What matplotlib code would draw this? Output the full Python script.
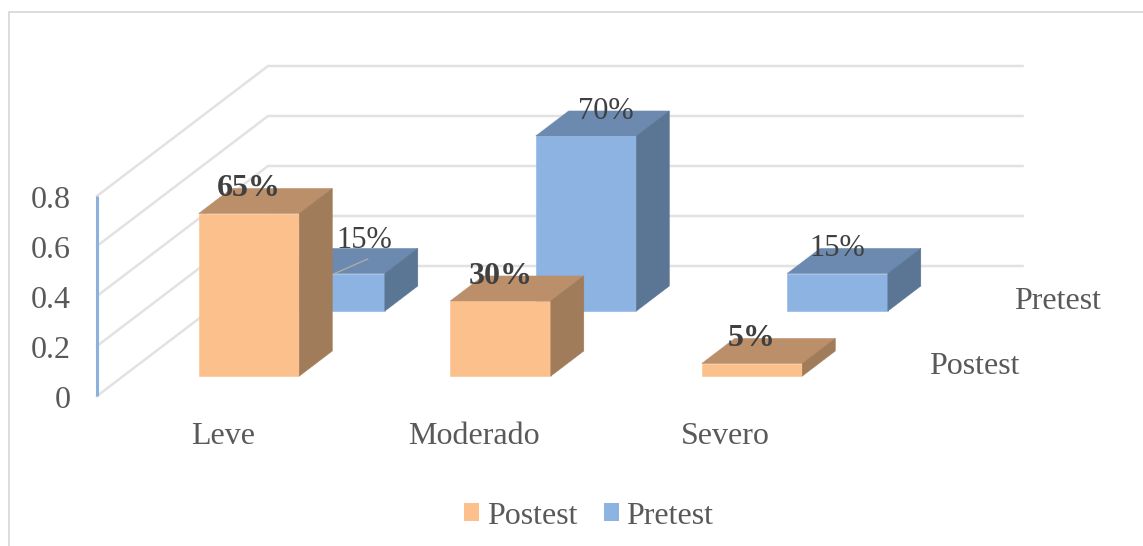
import matplotlib
matplotlib.use("Agg")
import matplotlib.pyplot as plt
from matplotlib.patches import Polygon, Patch

plt.rcParams["font.family"] = ["Liberation Serif", "DejaVu Serif"]

# Data
categories = ["Leve", "Moderado", "Severo"]
series_names = ["Postest", "Pretest"]
postest = [0.65, 0.30, 0.05]
pretest = [0.15, 0.70, 0.15]
postest_labels = ["65%", "30%", "5%"]
pretest_labels = ["15%", "70%", "15%"]
axis_ticks = [0, 0.2, 0.4, 0.6, 0.8]
axis_tick_labels = ["0", "0.2", "0.4", "0.6", "0.8"]

# Oblique projection of the excel style 3D chart
PX_CAT = 251.5  # pixels per category
PX_VAL = 250.0  # pixels per 1.0 of value
SHEAR_X = 0.34  # category units per series of depth
SHEAR_Y = 0.26  # value units per series of depth
BAR_W = 0.40
BAR_D = 0.385

TEXT = "#595959"
LABEL = "#404040"
GRID = "#E2E2E2"
POST_COLORS = ("#FBC08C", "#BC8F6B", "#A07C5B")  # front, top, side
PRE_COLORS = ("#8CB3E2", "#6C8AAF", "#5B7595")


def project(cat, depth, value):
    return cat + depth * SHEAR_X, value + depth * SHEAR_Y


def draw_bar(ax, cat, series, value, colors, z):
    x0 = cat + 0.5 - BAR_W / 2
    x1 = x0 + BAR_W
    d0 = series + 0.5 - BAR_D / 2
    d1 = d0 + BAR_D
    front = [project(x0, d0, 0), project(x1, d0, 0), project(x1, d0, value), project(x0, d0, value)]
    top = [project(x0, d0, value), project(x1, d0, value), project(x1, d1, value), project(x0, d1, value)]
    side = [project(x1, d0, 0), project(x1, d1, 0), project(x1, d1, value), project(x1, d0, value)]
    for pts, col in zip((front, top, side), colors):
        ax.add_patch(Polygon(pts, closed=True, facecolor=col, edgecolor=col, linewidth=0.4, zorder=z))


fig = plt.figure(figsize=(11.43, 5.46), dpi=100)
ax = fig.add_axes([0, 0, 1, 1])
ax.set_xlim(-97 / PX_CAT, (1143 - 97) / PX_CAT)
ax.set_ylim(-150 / PX_VAL, 396 / PX_VAL)
ax.axis("off")

# Chart border, only top and left are inside the crop
border_x = -88 / PX_CAT
border_y = 384 / PX_VAL
ax.plot([border_x, border_x, 1046 / PX_CAT], [-150 / PX_VAL, border_y, border_y], color="#D9D9D9", lw=1.3, zorder=1)

# Walls
for tick in axis_ticks:
    xs, ys = zip(project(0, 0, tick), project(0, 2, tick), project(3, 2, tick))
    ax.plot(xs, ys, color=GRID, lw=1.8, solid_joinstyle="miter", zorder=1)
ax.plot([0, 0], [0, axis_ticks[-1]], color="#8DB0DC", lw=2.2, solid_capstyle="butt", zorder=2)

for tick, lab in zip(axis_ticks, axis_tick_labels):
    ax.annotate(lab, (0, tick), xytext=(-19, -3), textcoords="offset points", ha="right", va="center",
                fontsize=23, color=TEXT)

for i, name in enumerate(categories):
    ax.annotate(name, (i + 0.5, 0), xytext=(0, -29), textcoords="offset points", ha="center", va="center",
                fontsize=23, color=TEXT)

for s, name in enumerate(series_names):
    ax.annotate(name, project(3, s + 0.5, 0), xytext=(25, -2.5), textcoords="offset points", ha="left",
                va="center", fontsize=23, color=TEXT)

# Bars, back row first
for i, val in enumerate(pretest):
    draw_bar(ax, i, 1, val, PRE_COLORS, 3 + i)
for i, val in enumerate(postest):
    draw_bar(ax, i, 0, val, POST_COLORS, 10 + i)

# Data labels
pre_shift = [(21.5, 24), (14.5, 18), (-0.5, 18)]
for i, val in enumerate(pretest):
    xy = project(i + 0.5, 1 + 0.5 - BAR_D / 2, val)
    ax.annotate(pretest_labels[i], xy, xytext=pre_shift[i], textcoords="offset points", ha="center", va="center",
                fontsize=22, color=LABEL, zorder=20)
for i, val in enumerate(postest):
    xy = project(i + 0.5, 0.5 - BAR_D / 2, val)
    ax.annotate(postest_labels[i], xy, xytext=(0, 18), textcoords="offset points", ha="center", va="center",
                fontsize=23, fontweight="bold", color=LABEL, zorder=20)

# Leader line of the moved 15% label
tip = project(0.5, 1 + 0.5 - BAR_D / 2, pretest[0])
ax.annotate("", xy=tip, xytext=(24, 10.5), textcoords=("offset points"), xycoords="data",
            arrowprops=dict(arrowstyle="-", color="#B5ADA5", lw=0.9, shrinkA=0, shrinkB=0), zorder=15)

handles = [Patch(facecolor=POST_COLORS[0], label=series_names[0]), Patch(facecolor=PRE_COLORS[0], label=series_names[1])]
fig.legend(handles=handles, loc="center", bbox_to_anchor=(589 / 1143, 1 - 516 / 546), ncol=2, frameon=False,
           fontsize=23, labelcolor=TEXT, handlelength=0.47, handleheight=0.47, handletextpad=0.25,
           columnspacing=0.8, borderpad=0, borderaxespad=0)

fig.savefig("out.png", dpi=100)
